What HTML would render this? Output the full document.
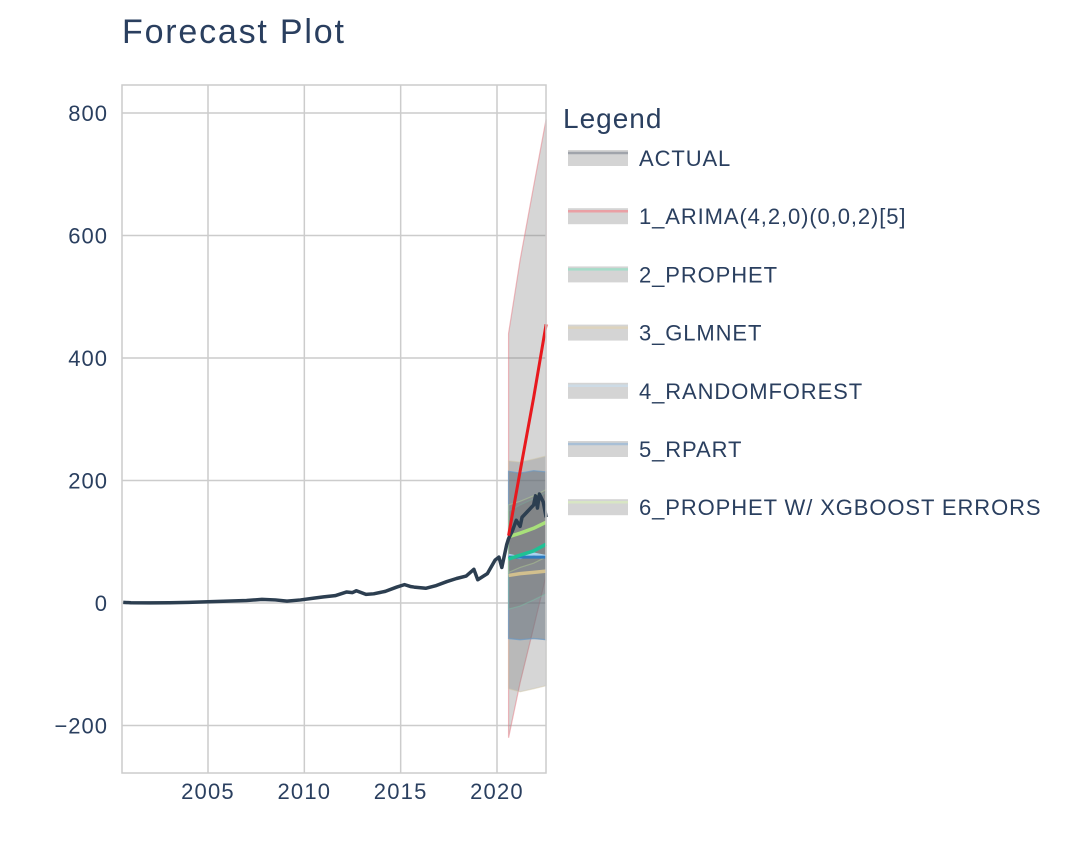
<!DOCTYPE html>
<html><head><meta charset="utf-8">
<style>
html,body{margin:0;padding:0;background:#fff;}
svg{font-family:"Liberation Sans",sans-serif;}
</style></head>
<body>
<svg id="c" width="1078" height="856" xmlns="http://www.w3.org/2000/svg">
<text x="122" y="43" font-size="34" letter-spacing="1.8" fill="#2a3f5f">Forecast Plot</text>
<g id="grid"></g><g id="bands"></g><g id="lines"></g><g id="axes"></g><g id="legend"></g>
</svg>
<script>
const xTicks=[2005,2010,2015,2020];
const yTicks=[-200,0,200,400,600,800];
const actualX=[2000.6,2001,2002,2003,2004,2005,2006,2007,2007.8,2008.5,2009.1,2009.8,2010.5,2011,2011.6,2012.2,2012.5,2012.7,2013.2,2013.6,2014.2,2014.8,2015.2,2015.5,2015.7,2016.3,2016.8,2017.4,2017.9,2018.4,2018.8,2019.0,2019.5,2019.9,2020.1,2020.25,2020.5,2020.6,2020.8,2021.0,2021.2,2021.3,2021.6,2021.9,2022.0,2022.1,2022.2,2022.4,2022.55];
const actualY=[1,0.5,0.3,0.5,1,2,3,4,6,5,3,5,8,10,12,18,17,20,14,15,19,26,30,27,26,24,28,35,40,44,55,38,48,70,75,58,95,105,118,135,125,140,150,160,175,155,178,165,140];
const fcX=[2020.6,2021.2,2021.9,2022.55];
const arimaY=[110,215,335,455];
const arimaHi=[440,560,680,790];
const arimaLo=[-220,-130,-40,45];
const prophetY=[72,78,85,96];
const glmnetY=[45,48,50,52];
const glmnetHi=[232,230,235,240];
const glmnetLo=[-140,-145,-140,-135];
const rfY=[78,74,80,76];
const rfHi=[215,212,216,214];
const rfLo=[-58,-60,-58,-60];
const rpartY=[75,75,75,75];
const xgbY=[108,114,122,132];
const xgbHi=[160,166,175,185];
const xgbLo=[50,58,65,75];
const prophetHi=[150,160,170,180];
const prophetLo=[-10,-5,5,15];
const legendLabels=["ACTUAL","1_ARIMA(4,2,0)(0,0,2)[5]","2_PROPHET","3_GLMNET","4_RANDOMFOREST","5_RPART","6_PROPHET W/ XGBOOST ERRORS"];
const legendColors=["#a0a4ab","#eaa0a5","#a6dcc9","#ddd3bd","#cddbe6","#a8bfd6","#d8e6c4"];

const X0=122,X1=546,Y0=85,Y1=773;
const xs=v=>208+(v-2005)*(497-208)/15;
const ys=v=>603-v*(603-113)/800;
const NS="http://www.w3.org/2000/svg";
function mk(p,tag,attrs){const e=document.createElementNS(NS,tag);for(const k in attrs)e.setAttribute(k,attrs[k]);p.appendChild(e);return e;}
const grid=document.getElementById('grid'),axes=document.getElementById('axes'),bands=document.getElementById('bands'),lines=document.getElementById('lines'),legend=document.getElementById('legend');
xTicks.forEach(t=>{const x=xs(t);
 const l=mk(grid,'line',{x1:x,x2:x,y1:Y0,y2:Y1,stroke:'#cccccc','stroke-width':1.5});
 
 
 const tx=mk(axes,'text',{x:x,y:799,'text-anchor':'middle','font-size':22,'letter-spacing':1.2,fill:'#2a3f5f'});tx.textContent=t;
 
 
});
yTicks.forEach(t=>{const y=ys(t);
 const l=mk(grid,'line',{x1:X0,x2:X1,y1:y,y2:y,stroke:'#cccccc','stroke-width':1.5});
 
 
 const tx=mk(axes,'text',{x:108,y:y+8,'text-anchor':'end','font-size':22,'letter-spacing':1,fill:'#2a3f5f'});tx.textContent=(t<0?'\u2212'+(-t):t);
 
 
});
const fr=mk(axes,'rect',{x:X0,y:Y0,width:X1-X0,height:Y1-Y0,fill:'none',stroke:'#cccccc','stroke-width':1.5});



function band(hi,lo,fill,stroke,name){
 let d='M'+fcX.map((x,i)=>xs(x)+','+ys(hi[i])).join('L')+'L'+fcX.slice().reverse().map((x,i)=>xs(x)+','+ys(lo[lo.length-1-i])).join('L')+'Z';
 const p=mk(bands,'path',{d:d,fill:fill,stroke:stroke,'stroke-width':1.2});
 
 
}
band(arimaHi,arimaLo,'rgba(120,120,120,0.3)','rgba(230,120,130,0.5)','arima-band');
band(glmnetHi,glmnetLo,'rgba(120,120,120,0.3)','rgba(210,200,170,0.5)','glmnet-band');
band(rfHi,rfLo,'rgba(120,120,120,0.3)','rgba(140,180,210,0.6)','randomforest-band');
band(rfHi,rfLo,'rgba(90,110,130,0.3)','rgba(110,150,190,0.6)','rpart-band');
band(prophetHi,prophetLo,'rgba(120,120,120,0.3)','rgba(120,200,170,0.4)','prophet-band');
band(xgbHi,xgbLo,'rgba(120,120,120,0.3)','rgba(190,220,150,0.4)','xgb-band');

function line(xa,ya,color,w,name){
 const p=mk(lines,'polyline',{points:xa.map((x,i)=>xs(x)+','+ys(ya[i])).join(' '),fill:'none',stroke:color,'stroke-width':w,'stroke-linejoin':'round'});
 
 
}
line(fcX,glmnetY,'#d2c08e',3.5,'glmnet-line');
line(fcX,rfY,'#a9d3ee',3,'randomforest-line');
line(fcX,rpartY,'#2f7bbf',3,'rpart-line');
line(fcX,prophetY,'#1fc195',3.5,'prophet-line');
line(fcX,xgbY,'#a8e07a',3.5,'prophet-xgboost-line');
line(actualX,actualY,'#2c3e50',3.5,'actual-line');
line(fcX,arimaY,'#e8191e',3,'arima-line');

const lt=mk(legend,'text',{x:563,y:128,'font-size':28,'letter-spacing':1,fill:'#2a3f5f'});lt.textContent='Legend';


legendLabels.forEach((lab,i)=>{const y=158+i*58.2;
 const g=mk(legend,'g',{});
 
 
 mk(g,'rect',{x:568,y:y-8,width:60,height:16,fill:'#d4d4d4'});
 mk(g,'line',{x1:568,x2:628,y1:y-5,y2:y-5,stroke:legendColors[i],'stroke-width':2.5});
 const t=mk(g,'text',{x:639,y:y+8,'font-size':22,'letter-spacing':0.9,fill:'#2a3f5f'});t.textContent=lab;
});
</script>
</body></html>
